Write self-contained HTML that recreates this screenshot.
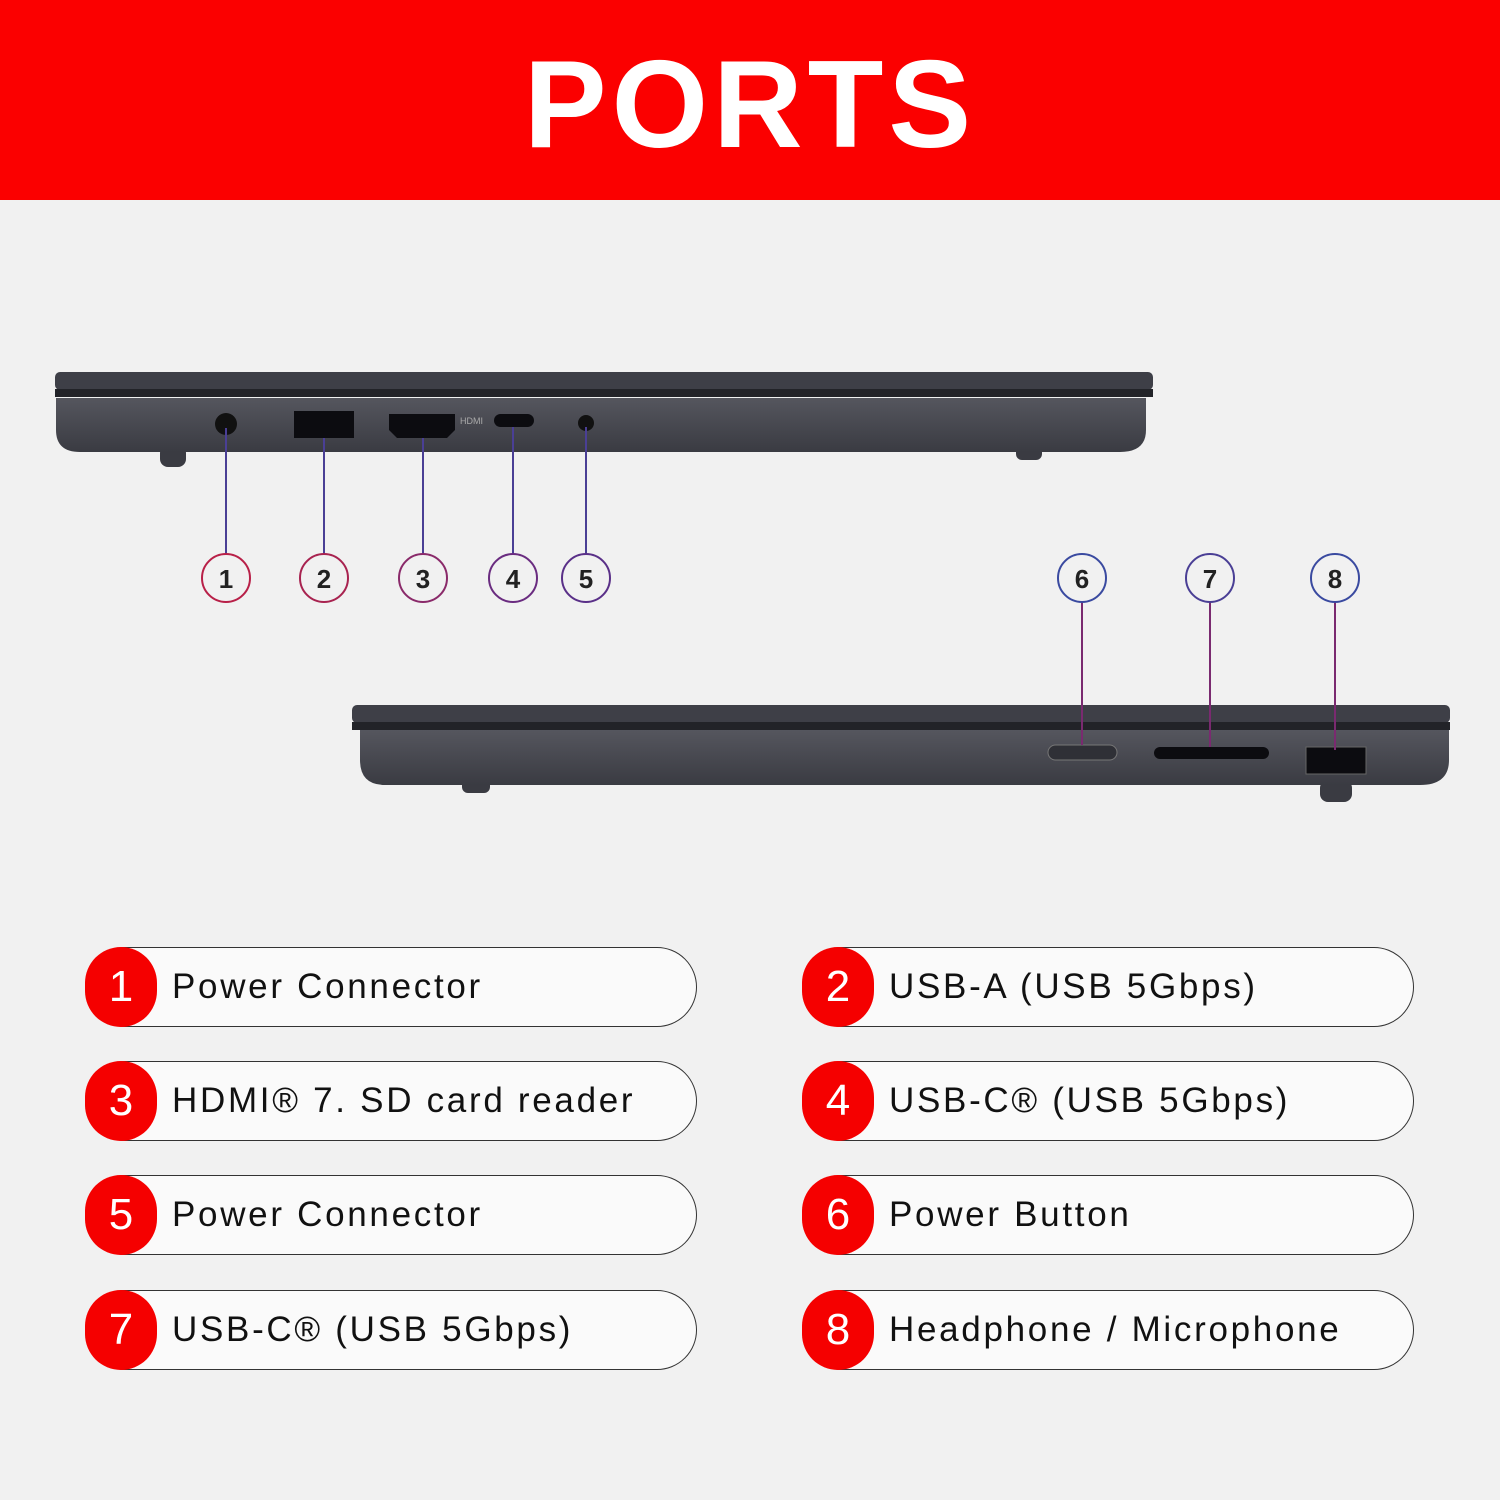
<!DOCTYPE html>
<html><head><meta charset="utf-8"><style>
body{margin:0;width:1500px;height:1500px;background:#f1f1f1;font-family:"Liberation Sans",sans-serif;overflow:hidden;position:relative}
.hdr{position:absolute;left:0;top:0;width:1500px;height:200px;background:#fb0000;color:#fff;font-weight:bold;font-size:124px;text-align:center;line-height:210px;letter-spacing:5px}
.pill{position:absolute;width:610px;height:78px;border:1.5px solid #333;border-radius:40px;background:#fafafa}
.pill .n{position:absolute;left:-1px;top:-1px;width:72px;height:80px;border-radius:40px;background:#f50000;color:#fff;font-size:44px;text-align:center;line-height:80px}
.pill .t{position:absolute;left:86px;top:0;line-height:78px;font-size:35px;color:#111;letter-spacing:2.7px;white-space:nowrap}
</style></head><body>
<div class="hdr">PORTS</div>
<svg width="1500" height="1500" style="position:absolute;left:0;top:0">
<defs>
<linearGradient id="b" x1="0" y1="0" x2="0" y2="1"><stop offset="0" stop-color="#55565e"/><stop offset="1" stop-color="#3a3b42"/></linearGradient>
</defs>
<rect x="160" y="445" width="26" height="22" rx="8" fill="#3a3b42"/>
<rect x="1016" y="445" width="26" height="15" rx="6" fill="#3a3b42"/>
<path d="M56 398 H1146 V430 Q1146 452 1120 452 H80 Q56 452 56 430 Z" fill="url(#b)"/>
<rect x="55" y="372" width="1098" height="18" rx="5" fill="#3e3f47"/>
<rect x="55" y="389" width="1098" height="8" fill="#222328"/>
<circle cx="226" cy="424" r="11" fill="#111"/>
<rect x="294" y="411" width="60" height="27" fill="#0c0c10"/>
<path d="M389 414 H455 V430 L447 438 H397 L389 430 Z" fill="#0c0c10"/>
<text x="460" y="424" font-size="9" fill="#aaa">HDMI</text>
<rect x="494" y="414" width="40" height="13" rx="6.5" fill="#0c0c10"/>
<circle cx="586" cy="423" r="8" fill="#111"/>
<rect x="462" y="778" width="28" height="15" rx="6" fill="#3a3b42"/>
<rect x="1320" y="780" width="32" height="22" rx="8" fill="#3a3b42"/>
<path d="M360 730 H1449 V760 Q1449 785 1420 785 H385 Q360 785 360 760 Z" fill="url(#b)"/>
<rect x="352" y="705" width="1098" height="18" rx="5" fill="#3e3f47"/>
<rect x="352" y="722" width="1098" height="8" fill="#222328"/>
<rect x="1048" y="745" width="69" height="15" rx="7.5" fill="#2f3036" stroke="#777" stroke-width="1"/>
<rect x="1154" y="747" width="115" height="12" rx="6" fill="#0c0c10"/>
<rect x="1306" y="747" width="60" height="27" fill="#0c0c10" stroke="#666"/>
<g stroke="#4a3f95" stroke-width="2">
<line x1="226" y1="428" x2="226" y2="554"/><line x1="324" y1="438" x2="324" y2="554"/><line x1="423" y1="438" x2="423" y2="554"/><line x1="513" y1="427" x2="513" y2="554"/><line x1="586" y1="427" x2="586" y2="554"/>
</g>
<g stroke="#7a2a70" stroke-width="2">
<line x1="1082" y1="602" x2="1082" y2="745"/><line x1="1210" y1="602" x2="1210" y2="747"/><line x1="1335" y1="602" x2="1335" y2="750"/>
</g>
<g fill="#f1f1f1" stroke-width="2">
<circle cx="226" cy="578" r="24" stroke="#b82048"/><circle cx="324" cy="578" r="24" stroke="#a82350"/><circle cx="423" cy="578" r="24" stroke="#8a2a6a"/><circle cx="513" cy="578" r="24" stroke="#6a2c80"/><circle cx="586" cy="578" r="24" stroke="#5a3088"/>
<circle cx="1082" cy="578" r="24" stroke="#3a4aa0"/><circle cx="1210" cy="578" r="24" stroke="#4a3f95"/><circle cx="1335" cy="578" r="24" stroke="#3a4aa0"/>
</g>
<g font-size="26" font-weight="bold" fill="#222" text-anchor="middle">
<text x="226" y="588">1</text><text x="324" y="588">2</text><text x="423" y="588">3</text><text x="513" y="588">4</text><text x="586" y="588">5</text>
<text x="1082" y="588">6</text><text x="1210" y="588">7</text><text x="1335" y="588">8</text>
</g>
</svg>
<div class="pill" style="left:85px;top:947px"><div class="n">1</div><div class="t">Power Connector</div></div>
<div class="pill" style="left:802px;top:947px"><div class="n">2</div><div class="t">USB-A (USB 5Gbps)</div></div>
<div class="pill" style="left:85px;top:1061px"><div class="n">3</div><div class="t">HDMI® 7. SD card reader</div></div>
<div class="pill" style="left:802px;top:1061px"><div class="n">4</div><div class="t">USB-C® (USB 5Gbps)</div></div>
<div class="pill" style="left:85px;top:1175px"><div class="n">5</div><div class="t">Power Connector</div></div>
<div class="pill" style="left:802px;top:1175px"><div class="n">6</div><div class="t">Power Button</div></div>
<div class="pill" style="left:85px;top:1290px"><div class="n">7</div><div class="t">USB-C® (USB 5Gbps)</div></div>
<div class="pill" style="left:802px;top:1290px"><div class="n">8</div><div class="t">Headphone / Microphone</div></div>
</body></html>
